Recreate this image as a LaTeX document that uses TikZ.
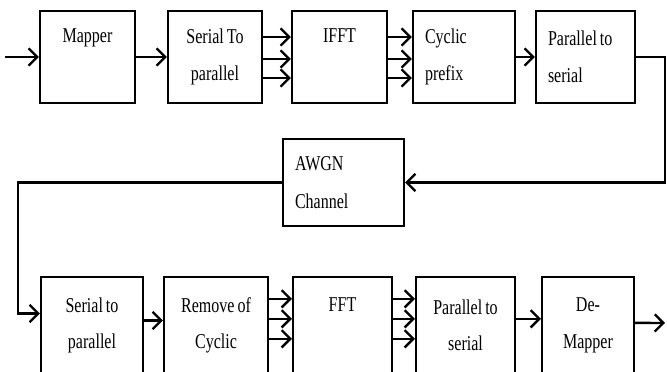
\documentclass[tikz,border=0pt]{standalone}
\usepackage{fontspec}
\setmainfont{Liberation Serif}[FakeStretch=0.76,WordSpace=0.75]
\usetikzlibrary{arrows,arrows.meta}

\begin{document}
\begin{tikzpicture}[x=0.03cm,y=-0.03cm,>={Straight Barb[length=2.6mm,width=5.2mm]}]
% Styles
\tikzstyle{block}=[draw,line width=1.8pt,align=center,inner sep=0pt,
  minimum height=2.76cm,font=\fontsize{18pt}{32pt}\selectfont]
\tikzstyle{leftblock}=[block,align=flush left,inner xsep=0.36cm]
\tikzstyle{lowblock}=[block,minimum height=2.91cm,font=\fontsize{18pt}{31pt}\selectfont]
\tikzstyle{signal}=[line width=2pt,->]
% Page
\useasboundingbox (0,0) rectangle (667,372);
% Transmitter
\node[block,minimum width=2.85cm] (map) at (87.5,57) {Mapper\\\vphantom{p}};
\node[block,minimum width=2.82cm] (stp) at (215,57) {Serial To\\parallel};
\node[block,minimum width=2.85cm] (ifft) at (339.5,57) {IFFT\\\vphantom{p}};
\node[leftblock,text width=2.34cm] (cp) at (464,57) {Cyclic\\prefix};
\node[leftblock,text width=2.25cm] (pts) at (585.5,57) {Parallel to\\serial};
% Channel
\node[leftblock,text width=2.91cm,minimum height=2.61cm] (awgn) at (343.5,182.5) {AWGN\\Channel};
% Receiver
\node[lowblock,minimum width=3.06cm] (sp2) at (92,325.5) {Serial to\\parallel};
\node[lowblock,minimum width=3.12cm] (rmc) at (216,325.5) {Remove of\\Cyclic};
\node[lowblock,minimum width=2.97cm] (fft) at (342.5,325.5) {FFT\\\vphantom{p}};
\node[lowblock,minimum width=2.97cm] (pts2) at (465.5,325.5) {Parallel to\\serial};
\node[lowblock,minimum width=2.76cm] (dmap) at (588,325.5) {De-\\Mapper};
% Connections
\coordinate (src) at (5,57);
\coordinate (turnR) at (665,57);
\coordinate (turnL) at (18,182.5);
\coordinate (sink) at (665,323);
\draw[signal] (src) -- (map);
\draw[signal] (map) -- (stp);
\foreach \dy in {0.6,-0.06,-0.63}{
  \draw[signal] ([yshift=\dy cm]stp.east) -- ([yshift=\dy cm]ifft.west);
  \draw[signal] ([yshift=\dy cm]ifft.east) -- ([yshift=\dy cm]cp.west);
}
\draw[signal] (cp) -- (pts);
\draw[signal] (pts) -- (turnR) |- (awgn);
\draw[signal] (awgn) -- (turnL) |- ([yshift=0.36cm]sp2.west);
\draw[signal] ([yshift=0.15cm]sp2.east) -- ([yshift=0.15cm]rmc.west);
\foreach \dy in {0.8,0.2,-0.4}{
  \draw[signal] ([yshift=\dy cm]rmc.east) -- ([yshift=\dy cm]fft.west);
  \draw[signal] ([yshift=\dy cm]fft.east) -- ([yshift=\dy cm]pts2.west);
}
\draw[signal] ([yshift=0.2cm]pts2.east) -- ([yshift=0.2cm]dmap.west);
\draw[signal] ([yshift=0.08cm]dmap.east) -- (sink);
\end{tikzpicture}
\end{document}
